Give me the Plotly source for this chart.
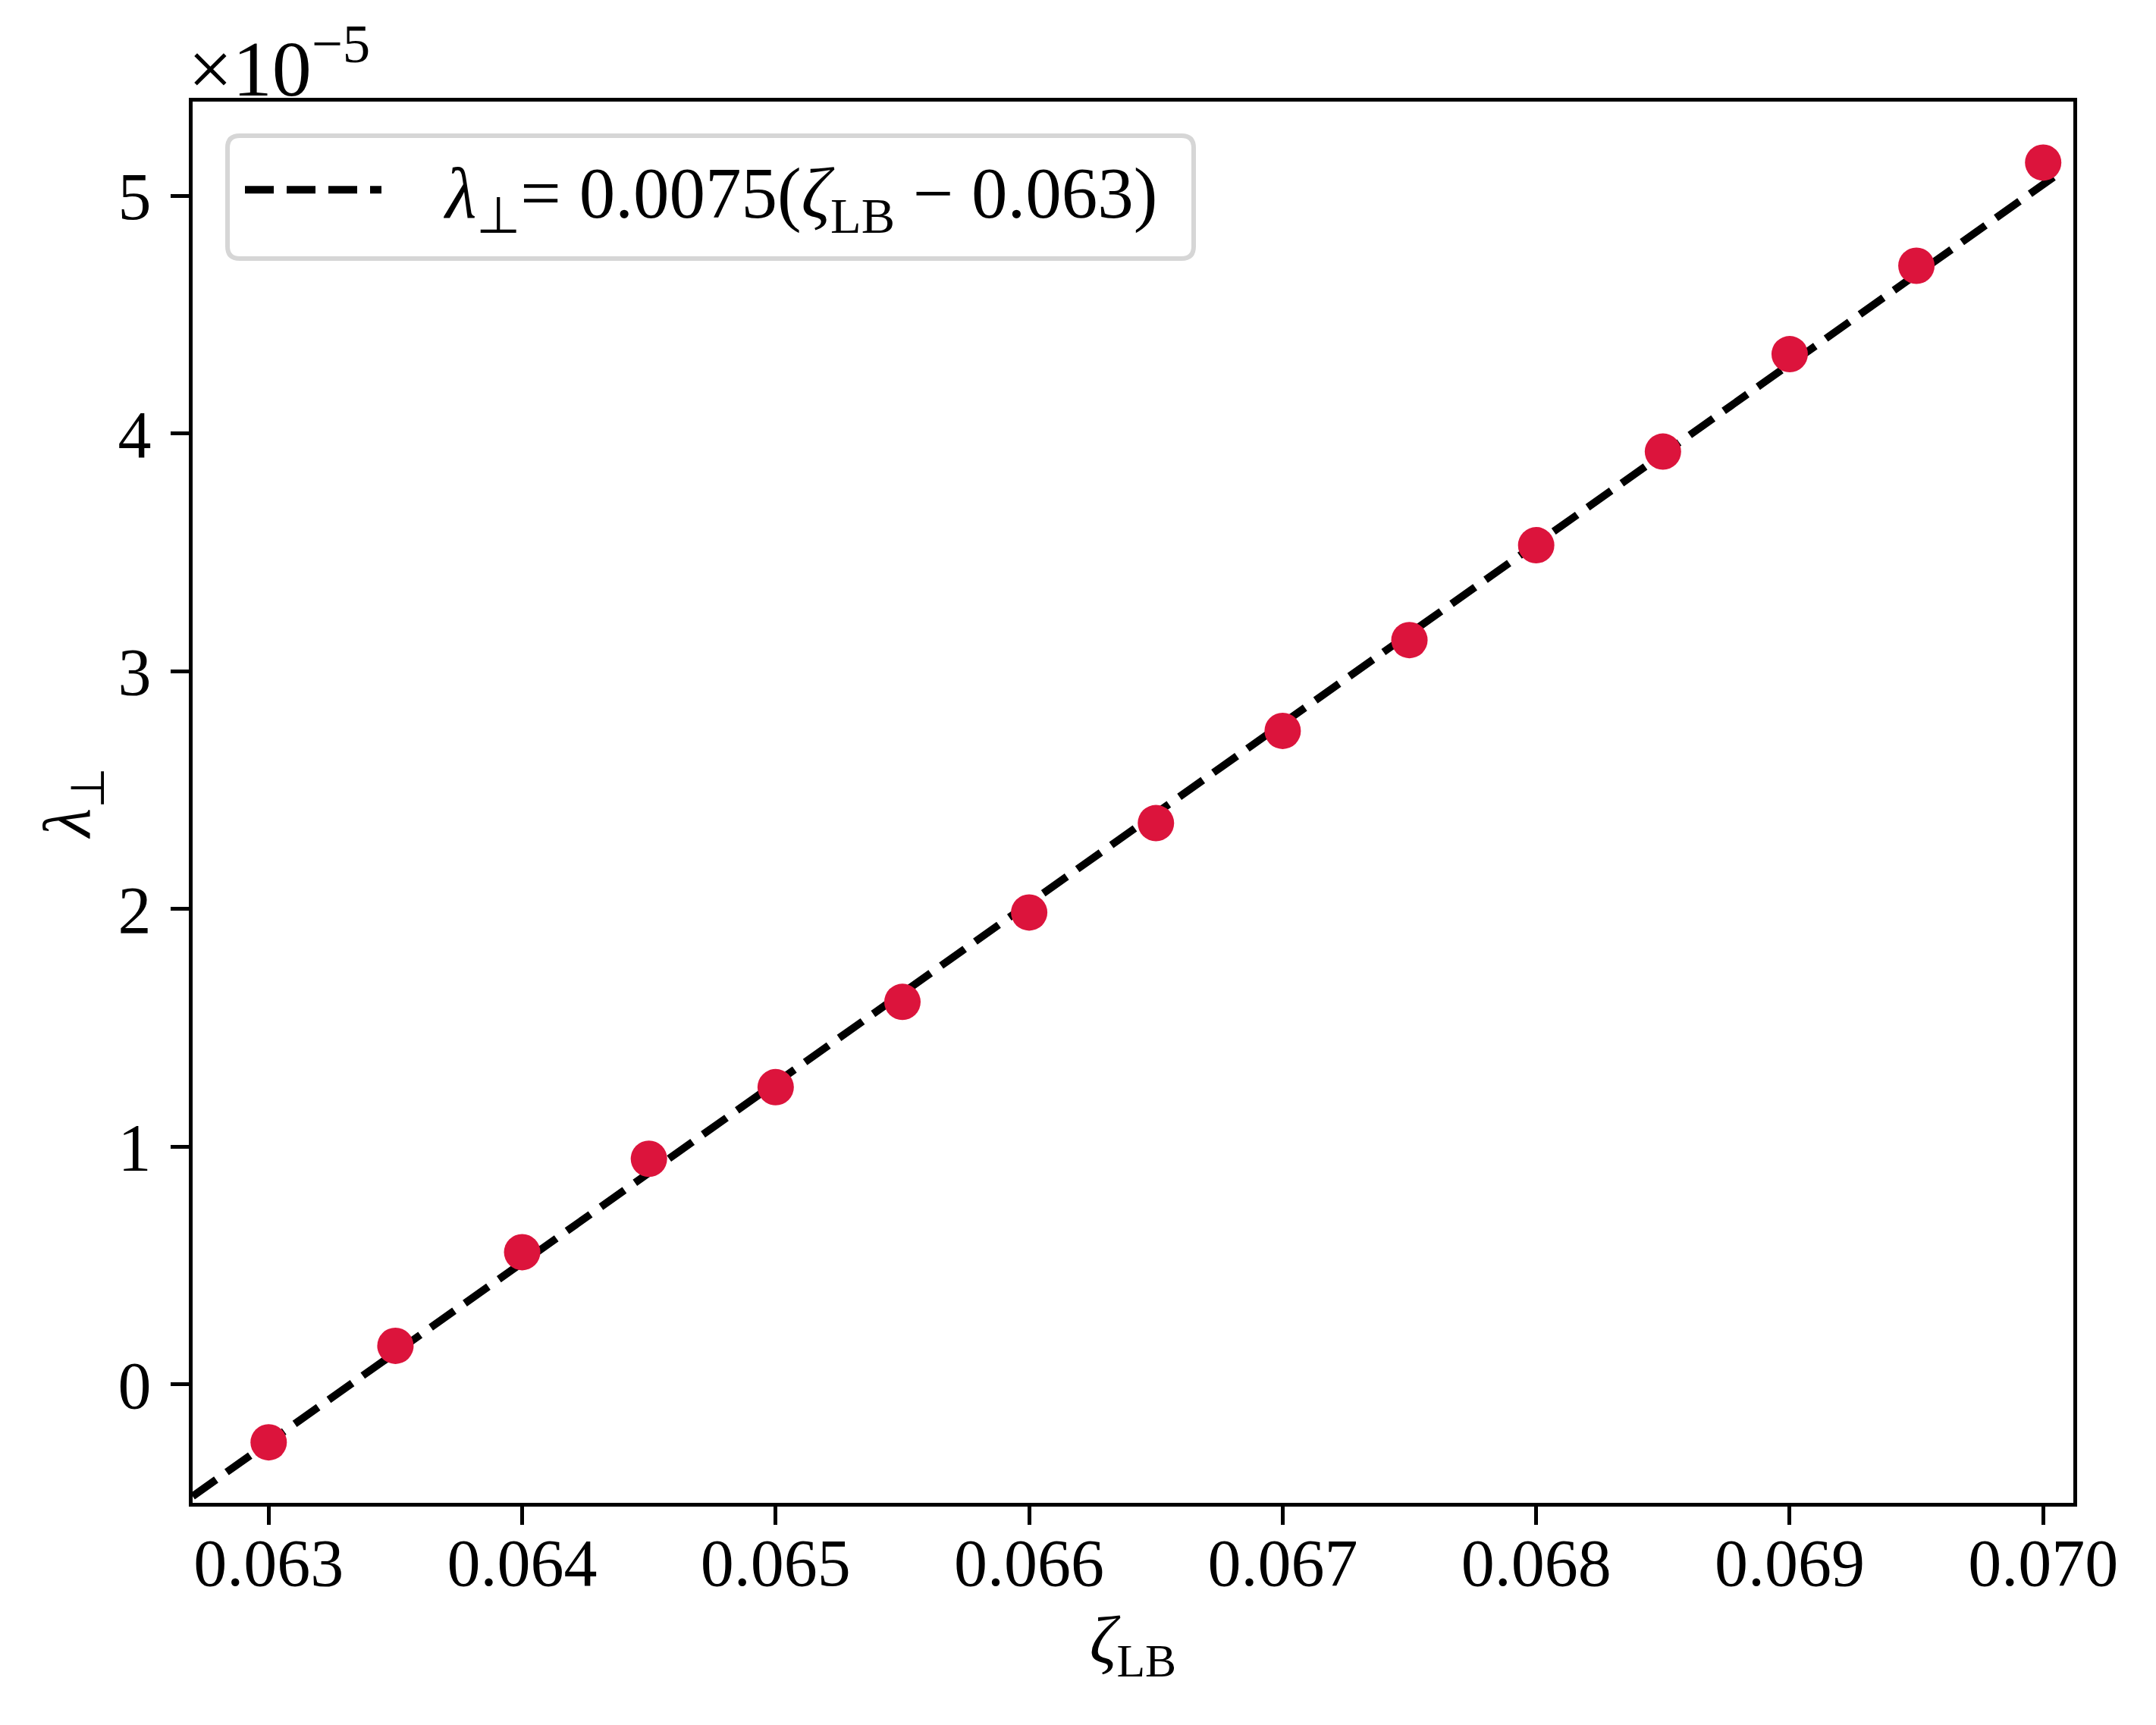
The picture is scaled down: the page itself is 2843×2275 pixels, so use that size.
import plotly.graph_objects as go

# ---- data ----
zeta_lb = [0.0630, 0.0635, 0.0640, 0.0645, 0.0650, 0.0655, 0.0660, 0.0665,
           0.0670, 0.0675, 0.0680, 0.0685, 0.0690, 0.0695, 0.0700]
lambda_perp = [-0.244, 0.162, 0.556, 0.949, 1.250, 1.609, 1.985, 2.361,
               2.749, 3.131, 3.530, 3.924, 4.334, 4.706, 5.140]   # x 1e-5

fit_slope = 756.0        # in units of 1e-5 per unit zeta
fit_x0 = 0.063323
fit_x = [0.0627, 0.07008]
fit_y = [fit_slope * (x - fit_x0) for x in fit_x]

x_ticks = [0.063, 0.064, 0.065, 0.066, 0.067, 0.068, 0.069, 0.070]
x_ticklabels = ["0.063", "0.064", "0.065", "0.066", "0.067", "0.068", "0.069", "0.070"]
y_ticks = [0, 1, 2, 3, 4, 5]
y_ticklabels = ["0", "1", "2", "3", "4", "5"]

legend_label = "&nbsp;&nbsp;&nbsp;&#8202;<i>λ</i><sub>⊥</sub>= 0.0075(<i>ζ</i><sub>LB</sub> − 0.063)"

# ---- layout constants (pixels, screenshot coordinates) ----
W, H = 2843, 2275
OFF = 8                      # page body margin
L, R, T, B = 254, 2734, 134, 1982
PW, PH = R - L, B - T
FONT = "Liberation Serif"
FS = 88

def px(X):
    return (X - L) / PW

def py(Y):
    return 1 - (Y - T) / PH

fig = go.Figure()
fig.add_trace(go.Scatter(
    x=fit_x, y=fit_y, mode="lines", name=legend_label,
    line=dict(color="black", width=10, dash="38px,17px"),
    showlegend=True,
))
fig.add_trace(go.Scatter(
    x=zeta_lb, y=lambda_perp, mode="markers",
    marker=dict(color="#DC143C", size=48, line=dict(width=0)),
    showlegend=False,
))

# rounded legend frame
bx0, bx1, by0, by1, r = 300, 1574, 179, 341, 16
rx, ry = r / PW, r / PH
X0, X1, Y0, Y1 = px(bx0), px(bx1), py(by0), py(by1)
path = (f"M {X0+rx},{Y0} L {X1-rx},{Y0} Q {X1},{Y0} {X1},{Y0-ry} "
        f"L {X1},{Y1+ry} Q {X1},{Y1} {X1-rx},{Y1} "
        f"L {X0+rx},{Y1} Q {X0},{Y1} {X0},{Y1+ry} "
        f"L {X0},{Y0-ry} Q {X0},{Y0} {X0+rx},{Y0} Z")
fig.add_shape(type="path", path=path, xref="paper", yref="paper",
              line=dict(color="#d6d6d6", width=6), fillcolor="rgba(255,255,255,0.8)",
              layer="below")

axis_common = dict(
    showgrid=False, zeroline=False, showline=True, linecolor="black", linewidth=5,
    mirror=True, ticks="outside", ticklen=24, tickwidth=5, tickcolor="black",
    tickfont=dict(family=FONT, size=FS, color="black"),
)

fig.update_layout(
    width=W, height=H,
    margin=dict(l=L - OFF, r=W - (L - OFF) - PW, t=T - OFF, b=H - (T - OFF) - PH),
    paper_bgcolor="white", plot_bgcolor="white",
    font=dict(family=FONT, size=FS, color="black"),
    xaxis=dict(range=[0.0627, 0.070119], tickvals=x_ticks, ticktext=x_ticklabels,
               title=dict(text="<i>ζ</i><sub>LB</sub>", font=dict(family=FONT, size=FS), standoff=24),
               ticklabelstandoff=-26, **axis_common),
    yaxis=dict(range=[-0.4986, 5.3965], tickvals=y_ticks, ticktext=y_ticklabels,
               title=dict(text="<i>λ</i><sub>⊥</sub>", font=dict(family=FONT, size=FS), standoff=9),
               ticklabelstandoff=8, **axis_common),
    legend=dict(x=px(318), y=py(182), xanchor="left", yanchor="top",
                bgcolor="rgba(0,0,0,0)", borderwidth=0, itemwidth=180,
                font=dict(family=FONT, size=95, color="black")),
    annotations=[dict(text="×10<sup>−5</sup>", xref="paper", yref="paper",
                      x=px(246), y=1, xanchor="left", yanchor="bottom", yshift=-16,
                      showarrow=False, font=dict(family=FONT, size=104, color="black"))],
)

fig.write_html("out.html")
